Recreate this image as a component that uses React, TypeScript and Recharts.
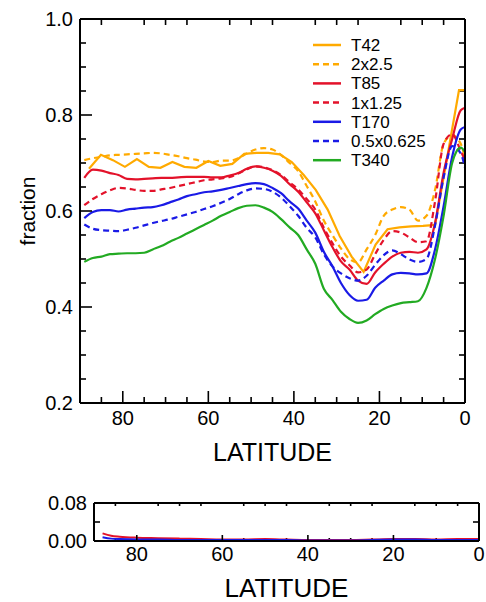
import React from 'react';
import { LineChart, Line, XAxis, YAxis, Legend, ReferenceLine } from 'recharts';

// latitude grid of the fine-resolution runs (deg N)
const LAT = [89, 87, 85, 83, 81, 79, 77, 75, 73, 71, 69, 67, 65, 63, 61, 59, 57, 55, 53, 51, 49, 47, 45, 43, 41, 39, 37, 35, 33, 31, 29, 27, 25, 23, 21, 19, 17, 15, 13, 11, 9, 7, 5, 3, 1, 0];

const FV_2x25 = [0.706, 0.71, 0.713, 0.716, 0.717, 0.718, 0.719, 0.72, 0.721, 0.72, 0.717, 0.714, 0.71, 0.707, 0.703, 0.702, 0.705, 0.705, 0.71, 0.72, 0.728, 0.731, 0.728, 0.717, 0.7, 0.683, 0.652, 0.62, 0.58, 0.55, 0.522, 0.5, 0.493, 0.52, 0.55, 0.59, 0.603, 0.608, 0.603, 0.58, 0.59, 0.644, 0.74, 0.758, 0.74, 0.71];
const T85 = [0.669, 0.686, 0.684, 0.679, 0.675, 0.667, 0.666, 0.667, 0.668, 0.669, 0.669, 0.67, 0.671, 0.671, 0.671, 0.67, 0.67, 0.674, 0.679, 0.688, 0.693, 0.69, 0.684, 0.673, 0.656, 0.64, 0.618, 0.595, 0.56, 0.525, 0.495, 0.478, 0.455, 0.448, 0.472, 0.49, 0.505, 0.513, 0.515, 0.513, 0.52, 0.575, 0.68, 0.75, 0.81, 0.815];
const FV_1x125 = [0.612, 0.625, 0.635, 0.643, 0.648, 0.647, 0.644, 0.642, 0.642, 0.645, 0.648, 0.652, 0.656, 0.66, 0.664, 0.666, 0.668, 0.671, 0.678, 0.687, 0.693, 0.691, 0.685, 0.675, 0.66, 0.645, 0.625, 0.603, 0.565, 0.533, 0.505, 0.487, 0.472, 0.478, 0.51, 0.54, 0.558, 0.555, 0.545, 0.535, 0.537, 0.62, 0.74, 0.76, 0.725, 0.706];
const T170 = [0.585, 0.598, 0.602, 0.602, 0.599, 0.603, 0.605, 0.607, 0.608, 0.612, 0.618, 0.624, 0.631, 0.635, 0.639, 0.641, 0.644, 0.648, 0.652, 0.656, 0.658, 0.656, 0.648, 0.637, 0.62, 0.605, 0.58, 0.555, 0.515, 0.485, 0.45, 0.425, 0.413, 0.415, 0.44, 0.455, 0.468, 0.471, 0.47, 0.468, 0.47, 0.52, 0.61, 0.713, 0.77, 0.775];
const FV_05x0625 = [0.572, 0.563, 0.56, 0.559, 0.558, 0.561, 0.565, 0.57, 0.575, 0.579, 0.583, 0.588, 0.593, 0.598, 0.604, 0.61, 0.617, 0.625, 0.635, 0.643, 0.647, 0.646, 0.64, 0.628, 0.61, 0.59, 0.565, 0.545, 0.51, 0.485, 0.47, 0.46, 0.455, 0.465, 0.488, 0.508, 0.518, 0.51, 0.499, 0.494, 0.5, 0.57, 0.67, 0.735, 0.72, 0.69];
const T340 = [0.494, 0.502, 0.505, 0.51, 0.511, 0.512, 0.512, 0.513, 0.52, 0.527, 0.536, 0.544, 0.553, 0.562, 0.571, 0.58, 0.59, 0.598, 0.606, 0.611, 0.612, 0.607, 0.598, 0.583, 0.566, 0.55, 0.52, 0.49, 0.438, 0.415, 0.39, 0.375, 0.367, 0.372, 0.385, 0.396, 0.403, 0.408, 0.41, 0.412, 0.44, 0.5, 0.59, 0.7, 0.732, 0.723];

// T42 is on its own (coarse gaussian) grid
const T42_LAT = [87.9, 85.1, 82.3, 79.5, 76.7, 73.9, 71.2, 68.4, 65.6, 62.8, 60.0, 57.2, 54.4, 51.6, 48.8, 46.0, 43.3, 40.5, 37.7, 34.9, 32.1, 29.3, 26.5, 23.7, 20.9, 18.1, 15.3, 12.6, 9.8, 7.0, 4.2, 1.4, 0];
const T42 = [0.688, 0.717, 0.706, 0.692, 0.708, 0.692, 0.69, 0.702, 0.692, 0.69, 0.704, 0.694, 0.698, 0.719, 0.721, 0.721, 0.718, 0.702, 0.675, 0.644, 0.603, 0.548, 0.505, 0.473, 0.53, 0.562, 0.566, 0.568, 0.569, 0.571, 0.71, 0.852, 0.852];

// lower panel: differences
const DIFF_LAT = [88, 86, 84, 80, 75, 70, 65, 60, 55, 50, 45, 40, 35, 30, 25, 20, 15, 10, 5, 0];
const DIFF_RED = [0.016, 0.011, 0.009, 0.007, 0.006, 0.005, 0.004, 0.003, 0.003, 0.004, 0.003, 0.002, 0.002, 0.002, 0.003, 0.004, 0.004, 0.003, 0.004, 0.004];
const DIFF_BLUE = [0.008, 0.005, 0.004, 0.003, 0.003, 0.002, 0.002, 0.002, 0.002, 0.002, 0.002, 0.001, 0.001, 0.001, 0.002, 0.003, 0.003, 0.002, 0.002, 0.002];

const X_MINOR = [5, 10, 15, 25, 30, 35, 45, 50, 55, 65, 70, 75, 85];
const X_MAJOR = [0, 20, 40, 60, 80];
const Y_MINOR = [0.25, 0.3, 0.35, 0.45, 0.5, 0.55, 0.65, 0.7, 0.75, 0.85, 0.9, 0.95];
const Y_MAJOR = [0.2, 0.4, 0.6, 0.8, 1.0];
const DY_MINOR = [0.04];
const DY_MAJOR = [0, 0.08];

const ORANGE = '#FFAA00';
const RED = '#E3122A';
const BLUE = '#1A1AE6';
const GREEN = '#22AA22';
const FONT = '"Liberation Sans", Arial, Helvetica, sans-serif';

const SERIES = [
  { key: 't42', name: 'T42', color: ORANGE, dash: false },
  { key: 'fv2', name: '2x2.5', color: ORANGE, dash: true },
  { key: 't85', name: 'T85', color: RED, dash: false },
  { key: 'fv1', name: '1x1.25', color: RED, dash: true },
  { key: 't170', name: 'T170', color: BLUE, dash: false },
  { key: 'fv05', name: '0.5x0.625', color: BLUE, dash: true },
  { key: 't340', name: 'T340', color: GREEN, dash: false },
];

const fineRows = LAT.map((lat, i) => ({
  lat,
  fv2: FV_2x25[i],
  t85: T85[i],
  fv1: FV_1x125[i],
  t170: T170[i],
  fv05: FV_05x0625[i],
  t340: T340[i],
}));
const t42Rows = T42_LAT.map((lat, i) => ({ lat, t42: T42[i] }));
const diffRows = DIFF_LAT.map((lat, i) => ({ lat, red: DIFF_RED[i], blue: DIFF_BLUE[i] }));

const axisLine = { stroke: '#000', strokeWidth: 2 };
const tickLine = { stroke: '#000', strokeWidth: 1.6 };
const tickFont = { fontSize: 20, fill: '#000', fontFamily: FONT };

// minor tick marks: short pieces at both ends of a reference line
const vTick = (len: number) => (p: any) => (
  <g>
    <path d={`M${p.x1},${p.y1}L${p.x1},${p.y1 + (p.y2 > p.y1 ? len : -len)}`} stroke="#000" strokeWidth={1.6} />
    <path d={`M${p.x2},${p.y2}L${p.x2},${p.y2 + (p.y2 > p.y1 ? -len : len)}`} stroke="#000" strokeWidth={1.6} />
  </g>
);
const hTick = (len: number) => (p: any) => (
  <g>
    <path d={`M${p.x1},${p.y1}L${p.x1 + (p.x2 > p.x1 ? len : -len)},${p.y1}`} stroke="#000" strokeWidth={1.6} />
    <path d={`M${p.x2},${p.y2}L${p.x2 + (p.x2 > p.x1 ? -len : len)},${p.y2}`} stroke="#000" strokeWidth={1.6} />
  </g>
);

function LegendBox() {
  return (
    <svg width={170} height={140}>
      {SERIES.map((s, i) => {
        const y = 10 + i * 19.2;
        return (
          <g key={s.key}>
            <line x1={8} x2={36} y1={y} y2={y} stroke={s.color} strokeWidth={2.5} strokeDasharray={s.dash ? '6 4' : undefined} />
            <text x={46} y={y + 6} fontSize={17} fontFamily={FONT} fill="#000">
              {s.name}
            </text>
          </g>
        );
      })}
    </svg>
  );
}

const title: React.CSSProperties = {
  position: 'absolute',
  fontFamily: FONT,
  lineHeight: 1,
  whiteSpace: 'nowrap',
  transform: 'translate(-50%, -50%)',
};

// frame: four axes with inward major ticks (negative tickSize), labels on bottom and left
function frame(o: {
  left: number; right: number; top: number; bottom: number;
  yDomain: number[]; yMajor: number[]; yMinor: number[]; digits: number;
  xLen: number[]; yLen: number[]; xGap: number;
}) {
  const xCommon = { type: 'number' as const, dataKey: 'lat', domain: [0, 90], reversed: true };
  const yCommon = { type: 'number' as const, domain: o.yDomain };
  return [
    <XAxis key="xb" xAxisId="x" {...xCommon} ticks={X_MAJOR} height={o.bottom} tickSize={-o.xLen[0]} tickMargin={o.xGap + o.xLen[0]} tickLine={tickLine} axisLine={axisLine} tick={tickFont} />,
    <XAxis key="xt" xAxisId="xt" orientation="top" {...xCommon} ticks={X_MAJOR} height={o.top} tickSize={-o.xLen[0]} tickLine={tickLine} axisLine={axisLine} tick={false} />,
    <YAxis key="yl" yAxisId="y" {...yCommon} ticks={o.yMajor} width={o.left} tickSize={-o.yLen[0]} tickMargin={7 + o.yLen[0]} tickLine={tickLine} axisLine={axisLine} tick={tickFont} tickFormatter={(v: number) => v.toFixed(o.digits)} />,
    <YAxis key="yr" yAxisId="yr" orientation="right" {...yCommon} ticks={o.yMajor} width={o.right} tickSize={-o.yLen[0]} tickLine={tickLine} axisLine={axisLine} tick={false} />,
    ...X_MINOR.map((t) => <ReferenceLine key={`xm${t}`} xAxisId="x" yAxisId="y" x={t} shape={vTick(o.xLen[1])} />),
    ...o.yMinor.map((t) => <ReferenceLine key={`ym${t}`} xAxisId="x" yAxisId="y" y={t} shape={hTick(o.yLen[1])} />),
  ];
}

export default function App() {
  return (
    <div style={{ position: 'absolute', left: 0, top: 0, width: 486, height: 602 }}>
      <div style={{ position: 'absolute', left: 0, top: 0 }}>
        <LineChart width={486} height={470} data={fineRows} margin={{ top: 0, right: 0, bottom: 0, left: 0 }}>
          {frame({
            left: 80, right: 21, top: 19, bottom: 67,
            yDomain: [0.2, 1.0], yMajor: Y_MAJOR, yMinor: Y_MINOR, digits: 1,
            xLen: [12, 6], yLen: [12, 6], xGap: 8,
          })}
          {SERIES.map((s) => (
            <Line
              key={s.key}
              xAxisId="x"
              yAxisId="y"
              data={s.key === 't42' ? t42Rows : undefined}
              dataKey={s.key}
              name={s.name}
              type={s.key === 't42' ? 'linear' : 'monotone'}
              stroke={s.color}
              strokeWidth={2.2}
              strokeDasharray={s.dash ? '6 4' : undefined}
              dot={false}
              isAnimationActive={false}
            />
          ))}
          <Legend
            layout="vertical"
            align="center"
            verticalAlign="middle"
            content={() => <LegendBox />}
            wrapperStyle={{ position: 'absolute', left: 305, top: 35, width: 170, height: 140 }}
          />
        </LineChart>
      </div>
      <div style={{ ...title, left: 272.5, top: 452, fontSize: 25 }}>LATITUDE</div>
      <div style={{ ...title, left: 27, top: 211, fontSize: 21, transform: 'translate(-50%, -50%) rotate(-90deg)' }}>fraction</div>

      <div style={{ position: 'absolute', left: 0, top: 480 }}>
        <LineChart width={486} height={110} data={diffRows} margin={{ top: 0, right: 0, bottom: 0, left: 0 }}>
          {frame({
            left: 94, right: 7, top: 23, bottom: 49,
            yDomain: [0, 0.08], yMajor: DY_MAJOR, yMinor: DY_MINOR, digits: 2,
            xLen: [6, 3], yLen: [8, 6], xGap: 6,
          })}
          <Line xAxisId="x" yAxisId="y" dataKey="red" type="monotone" stroke={RED} strokeWidth={2} dot={false} isAnimationActive={false} />
          <Line xAxisId="x" yAxisId="y" dataKey="blue" type="monotone" stroke={BLUE} strokeWidth={2} dot={false} isAnimationActive={false} />
        </LineChart>
      </div>
      <div style={{ ...title, left: 286.5, top: 588, fontSize: 26 }}>LATITUDE</div>
    </div>
  );
}
